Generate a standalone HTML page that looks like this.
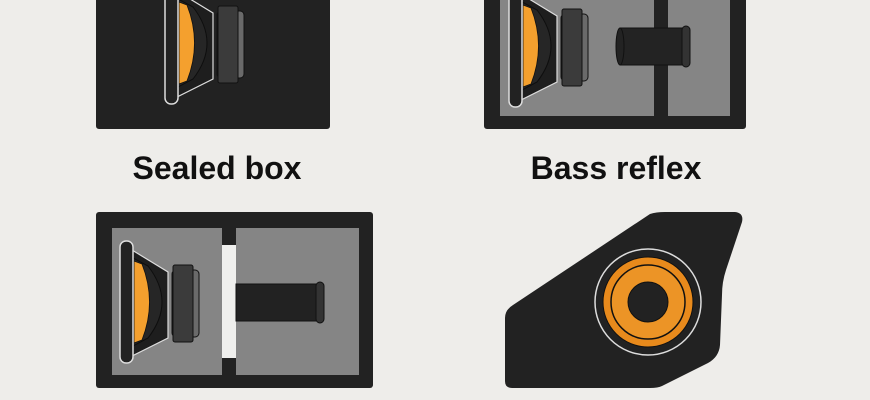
<!DOCTYPE html>
<html><head><meta charset="utf-8"><style>
html,body{margin:0;padding:0;background:#eeedea;}
svg{display:block}
text{font-family:"Liberation Sans",Arial,sans-serif;font-weight:bold;fill:#111}
</style></head><body>
<svg width="870" height="400" viewBox="0 0 870 400" xmlns="http://www.w3.org/2000/svg">
<defs>
<g id="spk">
  <path d="M132,250 L168,272 L168,338 L132,356 Z" fill="#1e1e1e" stroke="#ddd" stroke-width="1.2"/>
  <path d="M133,258 L148,266 Q176,302 148,338 L133,346 Z" fill="#262626" stroke="#0e0e0e" stroke-width="1"/>
  <path d="M134,261 L142,264 Q157,302 142,340 L134,343 Z" fill="#f4a02e" stroke="#111" stroke-width="0.8"/>
  <rect x="120" y="241" width="13" height="122" rx="6" fill="#222" stroke="#ddd" stroke-width="1.5"/>
  <rect x="172" y="270" width="27" height="67" rx="4" fill="#6a6a6a" stroke="#111"/>
  <rect x="173" y="265" width="20" height="77" rx="2" fill="#3b3b3b" stroke="#111"/>
</g>
</defs>
<rect x="96" y="-10" width="234" height="139" rx="3" fill="#222"/>
<use href="#spk" transform="translate(45,-259)"/>
<text x="217" y="179" font-size="32" text-anchor="middle">Sealed box</text>

<rect x="484" y="-10" width="262" height="139" rx="3" fill="#222"/>
<rect x="500" y="-10" width="154" height="126" fill="#858585"/>
<rect x="668" y="-10" width="62" height="126" fill="#858585"/>
<use href="#spk" transform="translate(389,-256)"/>
<rect x="620" y="28" width="64" height="37" fill="#232323" stroke="#111"/>
<ellipse cx="620" cy="46.5" rx="4" ry="18.5" fill="#232323" stroke="#111"/>
<rect x="682" y="26" width="8" height="41" rx="4" fill="#333" stroke="#111"/>
<text x="616" y="179" font-size="32" text-anchor="middle">Bass reflex</text>

<rect x="96" y="212" width="277" height="176" rx="3" fill="#222"/>
<rect x="112" y="228" width="110" height="147" fill="#858585"/>
<rect x="236" y="228" width="123" height="147" fill="#858585"/>
<rect x="222" y="245" width="14" height="113" fill="#efefed"/>
<use href="#spk"/>
<rect x="236" y="284" width="84" height="37" fill="#222" stroke="#111"/>
<rect x="316" y="282" width="8" height="41" rx="4" fill="#333" stroke="#111"/>

<path d="M665,212 L735,212 Q744,213 742,222 L726,270 Q722,282 722,295 L720,345 Q719,357 708,363 L662,386 Q658,388 650,388 L512,388 Q505,388 505,381 L505,318 Q505,310 513,305 L650,214 Q656,212 665,212 Z" fill="#222"/>
<circle cx="648" cy="302" r="53" fill="#222" stroke="#ddd" stroke-width="1.5"/>
<circle cx="648" cy="302" r="45" fill="#e88a1c" stroke="#111"/>
<circle cx="648" cy="302" r="37" fill="#ec9426" stroke="#111" stroke-width="1.5"/>
<circle cx="648" cy="302" r="20" fill="#222" stroke="#111"/>
</svg>
</body></html>
